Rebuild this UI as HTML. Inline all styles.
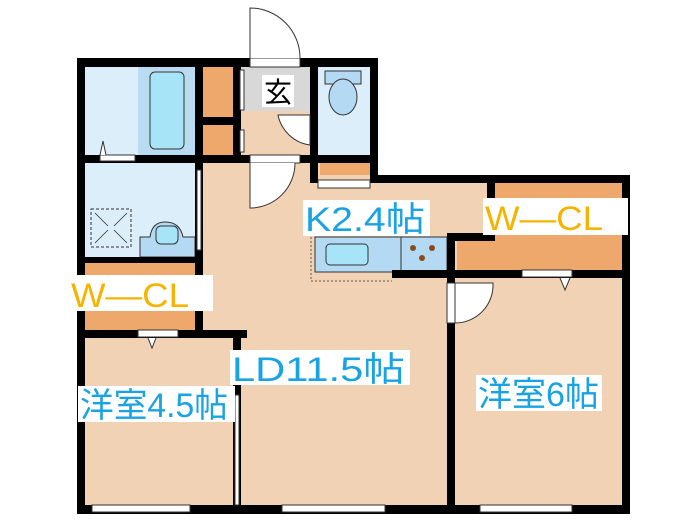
<!DOCTYPE html>
<html><head><meta charset="utf-8"><style>
html,body{margin:0;padding:0;background:#fff;width:700px;height:525px;overflow:hidden}
svg{display:block}
text{font-family:"Liberation Sans","Noto Sans CJK JP",sans-serif}
</style></head><body>
<svg width="700" height="525" viewBox="0 0 700 525" xmlns="http://www.w3.org/2000/svg">
<!-- floors -->
<rect x="203" y="163" width="175" height="345" fill="#f2d2b4"/>
<rect x="370" y="183" width="253" height="325" fill="#f2d2b4"/>
<rect x="240" y="110" width="72" height="45" fill="#f2d2b4"/>
<rect x="85" y="338" width="150" height="170" fill="#f2d2b4"/>
<!-- gray genkan -->
<rect x="241" y="67" width="71" height="44" fill="#d8d8d8"/>
<!-- wet areas -->
<rect x="85" y="67" width="110" height="88" fill="#dceefa"/>
<rect x="138" y="67" width="57" height="88" fill="#b9dcf3"/>
<rect x="150" y="72" width="34" height="77" rx="5" fill="#a8e4f8" stroke="#333" stroke-width="1"/>
<rect x="85" y="163" width="110" height="94" fill="#dceefa"/>
<rect x="318" y="67" width="52" height="88" fill="#dceefa"/>
<rect x="325" y="71" width="36" height="13" fill="#b3d9f3" stroke="#333" stroke-width="1"/>
<ellipse cx="343" cy="97" rx="14" ry="18" fill="#b3d9f3" stroke="#333" stroke-width="1"/>
<!-- washbasin -->
<path d="M140 257 V237 H150 Q152 222 165 222 Q180 222 183 237 H195 V257 Z" fill="#b3d9f3" stroke="#333"/>
<rect x="156" y="226" width="22" height="18" rx="5" fill="#a8e4f8" stroke="#333"/>
<rect x="91" y="209" width="40" height="38" fill="none" stroke="#333" stroke-dasharray="3,2"/>
<path d="M95 213 L108 226 M127 213 L114 226 M95 243 L108 230 M127 243 L114 230" stroke="#333" stroke-width="0.8"/>
<!-- closets -->
<rect x="203" y="67" width="30" height="50" fill="#efa86b"/>
<rect x="203" y="125" width="30" height="30" fill="#efa86b"/>
<rect x="85" y="263" width="110" height="67" fill="#efa86b"/>
<rect x="320" y="163" width="50" height="12" fill="#efa86b"/>
<rect x="495" y="183" width="127" height="55" fill="#efa86b"/>
<rect x="457" y="238" width="165" height="32" fill="#efa86b"/>
<!-- kitchen -->
<rect x="315" y="237" width="132" height="35" fill="#b3d9f3" stroke="#333"/>
<line x1="401" y1="237" x2="401" y2="272" stroke="#333"/>
<rect x="326" y="244" width="42" height="21" rx="4" fill="#a8e4f8" stroke="#333"/>
<circle cx="413" cy="248" r="3" fill="#8a4a1a"/><circle cx="432" cy="248" r="3" fill="#8a4a1a"/><circle cx="422" cy="258" r="3" fill="#8a4a1a"/>
<path d="M311 237 V281 H392" fill="none" stroke="#555" stroke-dasharray="2,2"/>
<!-- walls -->
<g fill="#000">
<rect x="77" y="58" width="300" height="9"/>
<rect x="77" y="58" width="8" height="456"/>
<rect x="77" y="505" width="553" height="9"/>
<rect x="370" y="58" width="8" height="125"/>
<rect x="370" y="175" width="260" height="8"/>
<rect x="622" y="175" width="8" height="339"/>
<rect x="195" y="58" width="8" height="280"/>
<rect x="85" y="155" width="225" height="8"/>
<rect x="233" y="58" width="8" height="105"/>
<rect x="203" y="117" width="38" height="8"/>
<rect x="310" y="58" width="8" height="125"/>
<rect x="310" y="155" width="68" height="8"/>
<rect x="85" y="257" width="118" height="6"/>
<rect x="77" y="330" width="170" height="8"/>
<rect x="233" y="330" width="8" height="184"/>
<rect x="447" y="233" width="8" height="281"/>
<rect x="447" y="233" width="48" height="8"/>
<rect x="487" y="175" width="8" height="60"/>
<rect x="392" y="270" width="238" height="8"/>
</g>
<!-- doors / windows -->
<g fill="#fff" stroke="#333" stroke-width="1">
<rect x="250" y="58" width="50" height="9"/>
<path d="M250 58 V8 A50 50 0 0 1 300 58"/>
<rect x="250" y="155" width="50" height="8"/>
<path d="M250 163 V208 A45 45 0 0 0 295 163"/>
<path d="M310 145 A38 38 0 0 1 278 115 H310 Z"/>
<rect x="92" y="505" width="98" height="7"/>
<rect x="282" y="505" width="103" height="7"/>
<rect x="480" y="505" width="92" height="7"/>
<rect x="100" y="155" width="35" height="6"/>
<rect x="138" y="330" width="40" height="7"/>
<rect x="522" y="270" width="50" height="7"/>
<rect x="447" y="283" width="8" height="40"/>
<path d="M455 283 H493 A38 38 0 0 1 455 323 Z"/>
<rect x="318" y="180" width="52" height="8"/>
<rect x="235" y="395" width="4" height="110"/>
<rect x="197" y="170" width="4" height="80"/>
<rect x="240" y="70" width="4" height="40"/>
<rect x="240" y="130" width="4" height="22"/>
</g>
<path d="M148 338 L152 348 L156 338" fill="#fff" stroke="#333"/>
<path d="M560 278 L565 290 L570 278" fill="#fff" stroke="#333"/>
<path d="M100 155 L103 141 L106 155" fill="#fff" stroke="#333"/>
<!-- labels -->
<rect x="262" y="75" width="32" height="32" fill="#fff"/>
<text x="278" y="102" font-size="28" text-anchor="middle" fill="#000">玄</text>
<rect x="303" y="200" width="127" height="36" fill="#fff"/>
<text x="305" y="231" font-size="34" fill="#1aa3e2" textLength="120" lengthAdjust="spacingAndGlyphs">K2.4帖</text>
<rect x="483" y="198" width="145" height="37" fill="#fff"/>
<text x="485" y="230" font-size="34" fill="#f5b400" textLength="118" lengthAdjust="spacingAndGlyphs">W—CL</text>
<rect x="70" y="275" width="143" height="36" fill="#fff"/>
<text x="71" y="307" font-size="34" fill="#f5b400" textLength="118" lengthAdjust="spacingAndGlyphs">W—CL</text>
<rect x="230" y="350" width="180" height="35" fill="#fff"/>
<text x="232" y="381" font-size="34" fill="#1aa3e2" textLength="173" lengthAdjust="spacingAndGlyphs">LD11.5帖</text>
<rect x="78" y="386" width="157" height="36" fill="#fff"/>
<text x="80" y="417" font-size="34" fill="#1aa3e2" textLength="148" lengthAdjust="spacingAndGlyphs">洋室4.5帖</text>
<rect x="476" y="375" width="126" height="36" fill="#fff"/>
<text x="478" y="406" font-size="34" fill="#1aa3e2" textLength="121" lengthAdjust="spacingAndGlyphs">洋室6帖</text>
</svg>
</body></html>
